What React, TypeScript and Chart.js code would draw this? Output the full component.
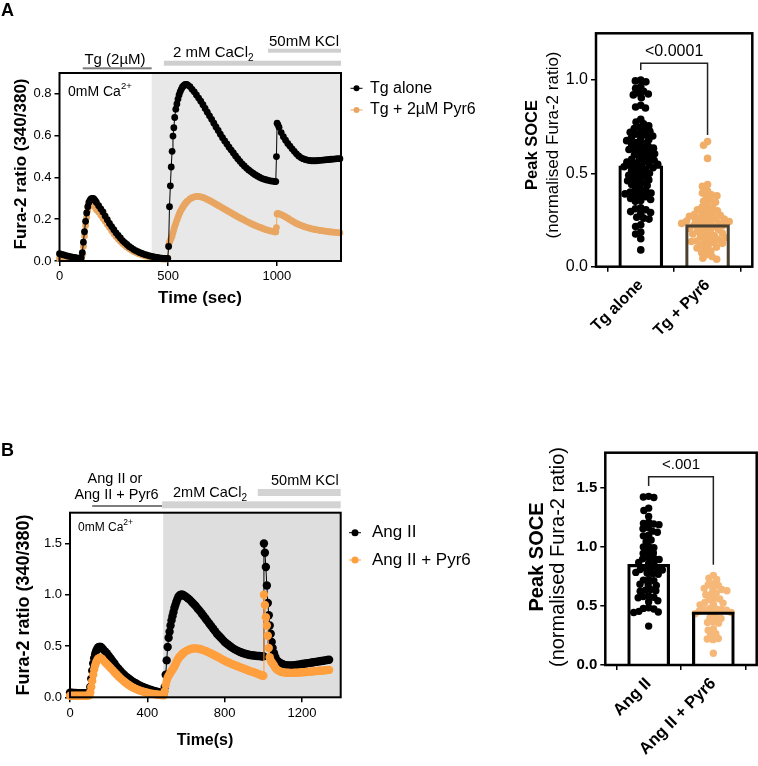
import { useEffect, useRef } from 'react';
import { Chart, registerables } from 'chart.js';

Chart.register(...registerables);

const W = 758;
const H = 766;
const SANS = '"Liberation Sans", Arial, Helvetica, sans-serif';
const fnt = (size: number, bold = false) => `${bold ? 'bold ' : ''}${size}px ${SANS}`;

// ---------------- Panel A: Fura-2 traces, thapsigargin ----------------
const timeA = [
  0, 10, 20, 30, 40, 50, 60, 70, 80, 90, 100,
  105, 110, 115, 120, 125, 130, 135, 140, 145, 150, 155, 160, 165, 170,
  180, 190, 200, 210, 220, 230, 240, 250, 260, 270, 280, 290, 300, 310, 320, 330, 340, 350, 360, 370, 380, 390, 400, 410, 420, 430, 440, 450, 460, 470, 480,
  485, 490, 494, 498, 502, 506, 510, 514, 518, 522, 526, 530, 535, 540, 545, 550, 555, 560, 565, 570, 575, 580, 585, 590,
  600, 610, 620, 630, 640, 650, 660, 670, 680, 690, 700, 710, 720, 730, 740, 750, 760, 770, 780, 790,
  800, 810, 820, 830, 840, 850, 860, 870, 880, 890, 900, 910, 920, 930, 940, 950, 960, 970, 980, 990,
  995, 998, 1001, 1005,
  1010, 1020, 1030, 1040, 1050, 1060, 1070, 1080, 1090, 1100, 1110, 1120, 1130, 1140, 1150, 1160, 1170, 1180, 1190, 1200,
  1210, 1220, 1230, 1240, 1250, 1260, 1270, 1280, 1290,
];
const ratioTgAlone = [
  0.035, 0.032, 0.029, 0.026, 0.023, 0.021, 0.019, 0.017, 0.015, 0.014, 0.015,
  0.04, 0.09, 0.14, 0.19, 0.23, 0.26, 0.28, 0.29, 0.297, 0.3, 0.3, 0.295, 0.288, 0.28,
  0.265, 0.25, 0.235, 0.215, 0.198, 0.18, 0.165, 0.15, 0.135, 0.122, 0.11, 0.098, 0.088, 0.079, 0.07, 0.063, 0.056, 0.05, 0.045, 0.04, 0.036, 0.032, 0.029, 0.026, 0.023, 0.021, 0.019, 0.017, 0.015, 0.014, 0.013,
  0.013, 0.012, 0.012, 0.013, 0.07, 0.26, 0.36, 0.45, 0.525, 0.598, 0.638, 0.687, 0.727, 0.752, 0.775, 0.795, 0.81, 0.822, 0.832, 0.838, 0.843, 0.845, 0.845, 0.842,
  0.835, 0.822, 0.81, 0.795, 0.78, 0.765, 0.748, 0.73, 0.712, 0.695, 0.678, 0.66, 0.642, 0.625, 0.607, 0.59, 0.575, 0.56, 0.545, 0.531,
  0.517, 0.503, 0.49, 0.477, 0.465, 0.455, 0.445, 0.436, 0.428, 0.42, 0.413, 0.407, 0.401, 0.396, 0.392, 0.389, 0.386, 0.384, 0.382, 0.381,
  0.38, 0.5, 0.66, 0.652,
  0.64, 0.615, 0.595, 0.578, 0.563, 0.55, 0.537, 0.525, 0.513, 0.503, 0.495, 0.49, 0.486, 0.483, 0.481, 0.48, 0.48, 0.48, 0.481, 0.482,
  0.483, 0.484, 0.485, 0.486, 0.487, 0.488, 0.489, 0.49, 0.49,
];
const ratioTgPyr6 = [
  0.012, 0.012, 0.012, 0.012, 0.012, 0.012, 0.012, 0.012, 0.012, 0.012, 0.012,
  0.03, 0.07, 0.12, 0.17, 0.21, 0.24, 0.26, 0.27, 0.275, 0.275, 0.27, 0.265, 0.255, 0.245,
  0.235, 0.22, 0.205, 0.19, 0.175, 0.16, 0.145, 0.13, 0.117, 0.105, 0.094, 0.084, 0.075, 0.067, 0.06, 0.053, 0.047, 0.042, 0.037, 0.033, 0.029, 0.026, 0.023, 0.02, 0.018, 0.016, 0.014, 0.012, 0.011, 0.01, 0.01,
  0.01, 0.01, 0.01, 0.012, 0.075, 0.09, 0.1, 0.11, 0.12, 0.135, 0.15, 0.165, 0.18, 0.195, 0.21, 0.223, 0.235, 0.245, 0.254, 0.262, 0.27, 0.277, 0.283, 0.288,
  0.297, 0.303, 0.307, 0.309, 0.309, 0.307, 0.304, 0.3, 0.295, 0.29, 0.284, 0.278, 0.272, 0.266, 0.26, 0.254, 0.248, 0.242, 0.236, 0.23,
  0.224, 0.218, 0.212, 0.206, 0.201, 0.196, 0.19, 0.185, 0.18, 0.175, 0.17, 0.166, 0.162, 0.158, 0.154, 0.15, 0.147, 0.144, 0.142, 0.14,
  0.139, 0.16, 0.225, 0.228,
  0.226, 0.222, 0.217, 0.211, 0.205, 0.198, 0.192, 0.186, 0.18, 0.175, 0.171, 0.167, 0.163, 0.16, 0.157, 0.154, 0.152, 0.15, 0.148, 0.146,
  0.145, 0.143, 0.142, 0.14, 0.139, 0.138, 0.137, 0.136, 0.135,
];
const timeTicksA = [0, 500, 1000];
const ratioTicksA = [0, 0.2, 0.4, 0.6, 0.8];
const seriesNamesA = ['Tg alone', 'Tg + 2\u00b5M Pyr6'];

// ---------------- Panel A: peak SOCE ----------------
const groupsA = ['Tg alone', 'Tg + Pyr6'];
const meanPeakA = [0.54, 0.225];
const peakTgAlone = [
  1.0, 0.995, 0.99, 0.965, 0.955, 0.94, 0.93, 0.925, 0.92, 0.905, 0.865, 0.855, 0.85, 0.79, 0.775, 0.765, 0.755,
  0.745, 0.74, 0.735, 0.725, 0.72, 0.715, 0.71, 0.705, 0.7, 0.69, 0.685, 0.68, 0.675, 0.665, 0.66, 0.655, 0.645,
  0.64, 0.635, 0.63, 0.628, 0.625, 0.615, 0.61, 0.605, 0.6, 0.595, 0.585, 0.58, 0.575, 0.57, 0.565, 0.56, 0.555,
  0.55, 0.548, 0.545, 0.54, 0.535, 0.53, 0.525, 0.52, 0.515, 0.505, 0.5, 0.495, 0.49, 0.485, 0.475, 0.47, 0.465,
  0.46, 0.45, 0.445, 0.44, 0.435, 0.415, 0.41, 0.405, 0.4, 0.395, 0.39, 0.385, 0.38, 0.375, 0.365, 0.36, 0.355,
  0.35, 0.315, 0.31, 0.305, 0.295, 0.29, 0.285, 0.265, 0.26, 0.255, 0.225, 0.215, 0.185, 0.175, 0.15, 0.09,
];
const peakTgPyr6 = [
  0.67, 0.65, 0.58, 0.44, 0.43, 0.405, 0.395, 0.385, 0.38, 0.375, 0.355, 0.35, 0.345, 0.325, 0.32, 0.315, 0.305,
  0.3, 0.295, 0.29, 0.285, 0.28, 0.275, 0.27, 0.265, 0.262, 0.258, 0.255, 0.25, 0.245, 0.242, 0.24, 0.238, 0.235,
  0.232, 0.225, 0.222, 0.22, 0.215, 0.21, 0.205, 0.2, 0.195, 0.19, 0.185, 0.18, 0.175, 0.17, 0.165, 0.16, 0.155,
  0.15, 0.145, 0.14, 0.138, 0.135, 0.13, 0.125, 0.12, 0.115, 0.105, 0.1, 0.095, 0.085, 0.075, 0.065, 0.055, 0.045, 0.04,
];
const peakTicksA = [0, 0.5, 1.0];
const pValueA = '<0.0001';

// ---------------- Panel B: Fura-2 traces, angiotensin II ----------------
const timeB = [
  0, 10, 20, 30, 40, 50, 60, 70, 80, 90, 100,
  105, 110, 115, 120, 125, 130, 135, 140, 145, 150, 155, 160, 165, 170,
  180, 190, 200, 210, 220, 230, 240, 250, 260, 270, 280, 290, 300, 310, 320, 330, 340, 350, 360, 370, 380, 390, 400, 410, 420, 430, 440, 450, 460, 470, 480,
  485, 490, 495, 500, 505, 510, 515, 520, 525, 530, 535, 540, 545, 550, 555, 560, 565, 570, 575, 580, 585, 590,
  600, 610, 620, 630, 640, 650, 660, 670, 680, 690, 700, 710, 720, 730, 740, 750, 760, 770, 780, 790,
  800, 810, 820, 830, 840, 850, 860, 870, 880, 890, 900, 910, 920, 930, 940, 950, 960, 970, 980, 990,
  995, 1000, 1003, 1008, 1013, 1018, 1023, 1028, 1033, 1038, 1043, 1048, 1055, 1062,
  1070, 1080, 1090, 1100, 1110, 1120, 1130, 1140, 1150, 1160, 1170, 1180, 1190, 1200,
  1210, 1220, 1230, 1240, 1250, 1260, 1270, 1280, 1290, 1300, 1310, 1320, 1330, 1340,
];
const ratioAngII = [
  0.045, 0.044, 0.043, 0.042, 0.041, 0.04, 0.04, 0.039, 0.039, 0.04, 0.05,
  0.1, 0.18, 0.26, 0.33, 0.38, 0.42, 0.45, 0.47, 0.485, 0.49, 0.492, 0.49, 0.48, 0.47,
  0.45, 0.43, 0.405, 0.38, 0.355, 0.33, 0.3, 0.28, 0.258, 0.238, 0.22, 0.202, 0.188, 0.174, 0.16, 0.148, 0.137, 0.126, 0.116, 0.107, 0.099, 0.091, 0.084, 0.077, 0.071, 0.065, 0.06, 0.055, 0.05, 0.046, 0.042,
  0.04, 0.1, 0.22, 0.36, 0.49, 0.58, 0.64, 0.7, 0.75, 0.79, 0.83, 0.87, 0.9, 0.93, 0.955, 0.975, 0.99, 0.998, 1.0, 1.0, 0.997, 0.99,
  0.98, 0.965, 0.95, 0.93, 0.91, 0.89, 0.865, 0.845, 0.82, 0.795, 0.77, 0.745, 0.72, 0.695, 0.67, 0.645, 0.62, 0.6, 0.58, 0.56,
  0.54, 0.525, 0.51, 0.495, 0.482, 0.47, 0.46, 0.45, 0.442, 0.435, 0.428, 0.422, 0.417, 0.413, 0.41, 0.407, 0.405, 0.403, 0.402, 0.4,
  0.4, 0.4, 1.5, 1.41, 1.27, 1.09, 0.92, 0.8, 0.7, 0.62, 0.54, 0.48, 0.43, 0.39,
  0.36, 0.345, 0.333, 0.323, 0.316, 0.312, 0.31, 0.31, 0.311, 0.313, 0.315, 0.318, 0.321, 0.324,
  0.327, 0.33, 0.333, 0.336, 0.339, 0.342, 0.345, 0.348, 0.351, 0.354, 0.357, 0.36, 0.363, 0.366,
];
const ratioAngIIPyr6 = [
  0.015, 0.015, 0.015, 0.015, 0.015, 0.015, 0.015, 0.015, 0.015, 0.015, 0.02,
  0.05, 0.1, 0.16, 0.22, 0.27, 0.31, 0.34, 0.36, 0.375, 0.382, 0.385, 0.382, 0.375, 0.365,
  0.345, 0.325, 0.305, 0.285, 0.265, 0.245, 0.225, 0.205, 0.187, 0.17, 0.154, 0.139, 0.125, 0.113, 0.101, 0.091, 0.082, 0.074, 0.067, 0.06, 0.054, 0.049, 0.044, 0.04, 0.036, 0.033, 0.03, 0.027, 0.025, 0.023, 0.021,
  0.02, 0.06, 0.12, 0.16, 0.19, 0.21, 0.225, 0.24, 0.255, 0.268, 0.285, 0.3, 0.32, 0.34, 0.36, 0.375, 0.39, 0.4, 0.41, 0.42, 0.43, 0.438,
  0.45, 0.46, 0.468, 0.474, 0.477, 0.477, 0.475, 0.471, 0.466, 0.46, 0.453, 0.445, 0.436, 0.427, 0.418, 0.408, 0.398, 0.388, 0.377, 0.366,
  0.356, 0.347, 0.339, 0.331, 0.323, 0.315, 0.307, 0.3, 0.292, 0.285, 0.278, 0.271, 0.264, 0.257, 0.25, 0.244, 0.237, 0.23, 0.222, 0.215,
  0.212, 0.21, 1.0, 0.9, 0.78, 0.7, 0.6, 0.48, 0.39, 0.36, 0.34, 0.33, 0.31, 0.285,
  0.27, 0.258, 0.25, 0.245, 0.242, 0.24, 0.239, 0.238, 0.238, 0.239, 0.24, 0.241, 0.242, 0.244,
  0.245, 0.247, 0.248, 0.25, 0.252, 0.254, 0.255, 0.257, 0.259, 0.26, 0.262, 0.264, 0.265, 0.267,
];
const timeTicksB = [0, 400, 800, 1200];
const ratioTicksB = [0, 0.5, 1.0, 1.5];
const seriesNamesB = ['Ang II', 'Ang II + Pyr6'];

// ---------------- Panel B: peak SOCE ----------------
const groupsB = ['Ang II', 'Ang II + Pyr6'];
const meanPeakB = [0.853, 0.45];
const peakAngII = [
  1.43, 1.425, 1.42, 1.33, 1.31, 1.26, 1.21, 1.2, 1.195, 1.19, 1.165, 1.155, 1.135, 1.125, 1.1, 1.095, 1.06,
  1.045, 1.005, 1.0, 0.995, 0.96, 0.95, 0.945, 0.91, 0.905, 0.9, 0.895, 0.87, 0.86, 0.855, 0.825, 0.82, 0.815,
  0.81, 0.805, 0.785, 0.78, 0.775, 0.77, 0.725, 0.72, 0.715, 0.685, 0.68, 0.675, 0.64, 0.635, 0.63, 0.625, 0.585,
  0.58, 0.575, 0.57, 0.545, 0.535, 0.485, 0.48, 0.475, 0.455, 0.45, 0.445, 0.33,
];
const peakAngIIPyr6 = [
  0.76, 0.735, 0.725, 0.69, 0.68, 0.675, 0.65, 0.645, 0.64, 0.63, 0.61, 0.6, 0.595, 0.565, 0.56, 0.555, 0.53,
  0.525, 0.515, 0.51, 0.48, 0.475, 0.47, 0.468, 0.465, 0.46, 0.445, 0.44, 0.435, 0.405, 0.4, 0.395, 0.365, 0.36,
  0.355, 0.305, 0.295, 0.265, 0.255, 0.225, 0.22, 0.215, 0.1,
];
const peakTicksB = [0, 0.5, 1.0, 1.5];
const pValueB = '<.001';

// ---------------- layout ----------------
type Box = { l: number; t: number; r: number; b: number };
const traceBoxA: Box = { l: 59.5, t: 73, r: 341, b: 261 };
const traceBoxB: Box = { l: 70, t: 512.7, r: 340.7, b: 697.3 };
const peakBoxA: Box = { l: 596, t: 33.3, r: 752.3, b: 266.7 };
const peakBoxB: Box = { l: 605.3, t: 452.7, r: 756.7, b: 665 };
const GROUP_MIN = -0.67;
const GROUP_MAX = 1.67;
const Y_BOX = 40;

const BLACK = '#000000';
const ORANGE_A = '#e8a662';
const ORANGE_B = '#ff9f3e';
const DOT_ORANGE_A = '#f0ae68';
const DOT_ORANGE_B = '#f6b878';

// Pins the plot area to a fixed rectangle of the page; the x-axis box runs to the page bottom
// so rotated tick labels are not clipped.
function pinLayout(box: Box) {
  return {
    autoPadding: false,
    padding: { left: box.l - Y_BOX, top: box.t, right: W - box.r, bottom: 0 },
  };
}

function axis(
  min: number,
  max: number,
  values: number[],
  label: (v: number) => string,
  tickFont: any,
  size: number,
  horizontal: boolean,
  tickExtra: any = {},
) {
  return {
    type: 'linear',
    min,
    max,
    offset: false,
    afterBuildTicks: (s: any) => {
      s.ticks = values.map((v) => ({ value: v }));
    },
    afterFit: (s: any) => {
      if (horizontal) s.height = size;
      else s.width = size;
    },
    ticks: { callback: (v: any) => label(Number(v)), font: tickFont, color: '#000', padding: 3, autoSkip: false, ...tickExtra },
    grid: { display: true, drawOnChartArea: false, drawTicks: true, tickLength: 5, tickWidth: 1.5, tickColor: '#000', lineWidth: 1.5, color: '#000' },
    border: { display: false },
  };
}

type Run = { text: string; size: number; bold?: boolean; shift?: number };
function drawRuns(ctx: CanvasRenderingContext2D, runs: Run[], x: number, y: number, align: 'left' | 'center') {
  ctx.textBaseline = 'middle';
  ctx.textAlign = 'left';
  const widths = runs.map((r) => {
    ctx.font = fnt(r.size, r.bold);
    return ctx.measureText(r.text).width;
  });
  let cx = align === 'center' ? x - widths.reduce((a, b) => a + b, 0) / 2 : x;
  runs.forEach((r, i) => {
    ctx.font = fnt(r.size, r.bold);
    ctx.fillText(r.text, cx, y + (r.shift || 0));
    cx += widths[i];
  });
}

function vText(ctx: CanvasRenderingContext2D, text: string, cx: number, cy: number, font: string) {
  ctx.save();
  ctx.translate(cx, cy);
  ctx.rotate(-Math.PI / 2);
  ctx.font = font;
  ctx.textAlign = 'center';
  ctx.textBaseline = 'middle';
  ctx.fillText(text, 0, 0);
  ctx.restore();
}

function hBar(ctx: CanvasRenderingContext2D, x0: number, x1: number, yTop: number, h: number, color: string) {
  ctx.fillStyle = color;
  ctx.fillRect(x0, yTop, x1 - x0, h);
}

function legendRow(ctx: CanvasRenderingContext2D, x: number, y: number, color: string, r: number, text: string, size: number, textX: number) {
  ctx.strokeStyle = color;
  ctx.lineWidth = 1;
  ctx.beginPath();
  ctx.moveTo(x - 6, y);
  ctx.lineTo(x + 6, y);
  ctx.stroke();
  ctx.fillStyle = color;
  ctx.beginPath();
  ctx.arc(x, y, r, 0, Math.PI * 2);
  ctx.fill();
  ctx.fillStyle = '#000';
  drawRuns(ctx, [{ text, size }], textX, y, 'left');
}

function frame(chart: any, width: number) {
  const { ctx, chartArea: a } = chart;
  ctx.save();
  ctx.strokeStyle = '#000';
  ctx.lineWidth = width;
  ctx.strokeRect(a.left, a.top, a.right - a.left, a.bottom - a.top);
  ctx.restore();
}

function trace(label: string, times: number[], values: number[], color: string, radius: number, order: number) {
  return {
    type: 'line',
    label,
    data: times.map((t, i) => ({ x: t, y: values[i] })).filter((p) => p.y !== undefined),
    borderColor: color,
    backgroundColor: color,
    borderWidth: 1,
    pointRadius: radius,
    pointHoverRadius: radius,
    pointBackgroundColor: color,
    pointBorderWidth: 0,
    tension: 0,
    order,
    clip: false,
  };
}

// Beeswarm offsets: each value is pushed sideways just far enough not to overlap earlier dots.
function swarm(values: number[], center: number, r: number, pxPerY: number, pxPerX: number) {
  const placed: { x: number; y: number }[] = [];
  const out: { x: number; y: number }[] = [];
  const sorted = [...values].sort((a, b) => b - a);
  for (const v of sorted) {
    const py = v * pxPerY;
    const blocked: [number, number][] = [];
    for (const p of placed) {
      const dy = Math.abs(p.y - py);
      if (dy < 2 * r) {
        const dx = Math.sqrt(4 * r * r - dy * dy);
        blocked.push([p.x - dx, p.x + dx]);
      }
    }
    const cands = [0];
    blocked.forEach(([a, b]) => cands.push(a, b));
    cands.sort((a, b) => Math.abs(a) - Math.abs(b));
    let px = 0;
    for (const c of cands) {
      if (blocked.every(([a, b]) => c <= a + 1e-6 || c >= b - 1e-6)) {
        px = c;
        break;
      }
    }
    placed.push({ x: px, y: py });
    out.push({ x: center + px / pxPerX, y: v });
  }
  return out;
}

// ---------------- chart configs ----------------
function traceChartA(): any {
  const decor = {
    id: 'traceDecorA',
    beforeDatasetsDraw(chart: any) {
      const { ctx, chartArea: a, scales } = chart;
      const x0 = scales.x.getPixelForValue(424);
      ctx.save();
      ctx.fillStyle = '#e8e8e8';
      ctx.fillRect(x0, a.top, a.right - x0, a.bottom - a.top);
      ctx.restore();
    },
    afterDraw(chart: any) {
      const { ctx, scales } = chart;
      const x = scales.x;
      frame(chart, 2);
      ctx.save();
      hBar(ctx, x.getPixelForValue(107), x.getPixelForValue(424), 67.3, 2, '#7d7d7d');
      hBar(ctx, x.getPixelForValue(480), x.getPixelForValue(1295), 60.7, 5, '#cfcfcf');
      hBar(ctx, x.getPixelForValue(959), x.getPixelForValue(1295), 48.7, 4, '#cfcfcf');
      ctx.fillStyle = '#000';
      drawRuns(ctx, [{ text: 'Tg (2\u00b5M)', size: 15 }], 115, 60, 'center');
      drawRuns(ctx, [{ text: '2 mM CaCl', size: 15 }, { text: '2', size: 10, shift: 5 }], 173, 53, 'left');
      drawRuns(ctx, [{ text: '50mM KCl', size: 15 }], 269, 42, 'left');
      drawRuns(ctx, [{ text: '0mM Ca', size: 14 }, { text: '2+', size: 9.5, shift: -6 }], 68, 92, 'left');
      vText(ctx, 'Fura-2 ratio (340/380)', 21, 164, fnt(17, true));
      drawRuns(ctx, [{ text: 'Time (sec)', size: 17, bold: true }], 200, 298, 'center');
      drawRuns(ctx, [{ text: 'A', size: 18, bold: true }], 1, 11, 'left');
      legendRow(ctx, 356.5, 88.3, BLACK, 3, seriesNamesA[0], 16, 370);
      legendRow(ctx, 356.5, 110, ORANGE_A, 3, seriesNamesA[1], 16, 370);
      ctx.restore();
    },
  };
  const xBox = H - traceBoxA.b;
  return {
    type: 'line',
    data: {
      datasets: [
        trace(seriesNamesA[0], timeA, ratioTgAlone, BLACK, 3.4, 0),
        trace(seriesNamesA[1], timeA, ratioTgPyr6, ORANGE_A, 3.4, 1),
      ],
    },
    options: {
      responsive: false,
      animation: false,
      devicePixelRatio: 1,
      events: [],
      layout: pinLayout(traceBoxA),
      plugins: { legend: { display: false }, tooltip: { enabled: false } },
      scales: {
        x: axis(0, 1295, timeTicksA, (v) => String(v), { family: SANS, size: 13 }, xBox, true),
        y: axis(0, 0.9, ratioTicksA, (v) => v.toFixed(1), { family: SANS, size: 13 }, Y_BOX, false),
      },
    },
    plugins: [decor],
  };
}

function traceChartB(): any {
  const decor = {
    id: 'traceDecorB',
    beforeDatasetsDraw(chart: any) {
      const { ctx, chartArea: a, scales } = chart;
      const x0 = scales.x.getPixelForValue(482);
      ctx.save();
      ctx.fillStyle = '#dedede';
      ctx.fillRect(x0, a.top, a.right - x0, a.bottom - a.top);
      ctx.restore();
    },
    afterDraw(chart: any) {
      const { ctx, scales } = chart;
      const x = scales.x;
      frame(chart, 2);
      ctx.save();
      hBar(ctx, x.getPixelForValue(115), x.getPixelForValue(477), 505, 2, '#7d7d7d');
      hBar(ctx, x.getPixelForValue(477), x.getPixelForValue(1400), 501.3, 7, '#d3d3d3');
      hBar(ctx, x.getPixelForValue(971), x.getPixelForValue(1400), 489, 7, '#d3d3d3');
      ctx.fillStyle = '#000';
      drawRuns(ctx, [{ text: 'Ang II or', size: 14.5 }], 115, 479, 'center');
      drawRuns(ctx, [{ text: 'Ang II + Pyr6', size: 14.5 }], 116.5, 495, 'center');
      drawRuns(ctx, [{ text: '2mM CaCl', size: 14.5 }, { text: '2', size: 10, shift: 5 }], 173, 493, 'left');
      drawRuns(ctx, [{ text: '50mM KCl', size: 14.5 }], 271, 481, 'left');
      drawRuns(ctx, [{ text: '0mM Ca', size: 12 }, { text: '2+', size: 8.5, shift: -5 }], 78, 528, 'left');
      vText(ctx, 'Fura-2 ratio (340/380)', 24, 605, fnt(18, true));
      drawRuns(ctx, [{ text: 'Time(s)', size: 16, bold: true }], 205, 741, 'center');
      drawRuns(ctx, [{ text: 'B', size: 18, bold: true }], 1, 451, 'left');
      legendRow(ctx, 355, 532.7, BLACK, 3.5, seriesNamesB[0], 17, 372);
      legendRow(ctx, 355, 560, ORANGE_B, 3.5, seriesNamesB[1], 17, 372);
      ctx.restore();
    },
  };
  const xBox = H - traceBoxB.b;
  return {
    type: 'line',
    data: {
      datasets: [
        trace(seriesNamesB[0], timeB, ratioAngII, BLACK, 4.2, 1),
        trace(seriesNamesB[1], timeB, ratioAngIIPyr6, ORANGE_B, 4.2, 0),
      ],
    },
    options: {
      responsive: false,
      animation: false,
      devicePixelRatio: 1,
      events: [],
      layout: pinLayout(traceBoxB),
      plugins: { legend: { display: false }, tooltip: { enabled: false } },
      scales: {
        x: axis(0, 1400, timeTicksB, (v) => String(v), { family: SANS, size: 13 }, xBox, true),
        y: axis(0, 1.8, ratioTicksB, (v) => v.toFixed(1), { family: SANS, size: 13 }, Y_BOX, false),
      },
    },
    plugins: [decor],
  };
}

type PeakSpec = {
  id: string;
  box: Box;
  yMax: number;
  ticks: number[];
  groups: string[];
  means: number[];
  first: number[];
  second: number[];
  secondColor: string;
  barColors: string[];
  barThickness: number;
  dotR: number;
  tickFont: any;
  labelFont: any;
  pValue: string;
  pFont: number;
  bracket: { top: number; left: number; right: number; text: number };
  titles: { x1: number; x2: number; y: number; s1: number; s2: number };
};

function peakChart(s: PeakSpec): any {
  const pxPerY = (s.box.b - s.box.t) / s.yMax;
  const pxPerX = (s.box.r - s.box.l) / (GROUP_MAX - GROUP_MIN);
  const spread = s.dotR * 0.72;
  const decor = {
    id: s.id,
    afterDraw(chart: any) {
      const { ctx, scales } = chart;
      frame(chart, 2.5);
      const x0 = scales.x.getPixelForValue(0);
      const x1 = scales.x.getPixelForValue(1);
      const yt = scales.y.getPixelForValue(s.bracket.top);
      ctx.save();
      ctx.strokeStyle = '#222';
      ctx.lineWidth = 1.5;
      ctx.beginPath();
      ctx.moveTo(x0, scales.y.getPixelForValue(s.bracket.left));
      ctx.lineTo(x0, yt);
      ctx.lineTo(x1, yt);
      ctx.lineTo(x1, scales.y.getPixelForValue(s.bracket.right));
      ctx.stroke();
      ctx.fillStyle = '#000';
      drawRuns(ctx, [{ text: s.pValue, size: s.pFont }], (x0 + x1) / 2, scales.y.getPixelForValue(s.bracket.text), 'center');
      vText(ctx, 'Peak SOCE', s.titles.x1, s.titles.y, fnt(s.titles.s1, true));
      vText(ctx, '(normalised Fura-2 ratio)', s.titles.x2, s.titles.y, fnt(s.titles.s2));
      ctx.restore();
    },
  };
  const xBox = H - s.box.b;
  return {
    type: 'bar',
    data: {
      datasets: [
        {
          type: 'bar',
          data: s.means.map((m, i) => ({ x: i, y: m })),
          backgroundColor: 'rgba(0,0,0,0)',
          borderColor: s.barColors,
          borderWidth: 2.5,
          barThickness: s.barThickness,
          grouped: false,
          order: 0,
        },
        {
          type: 'scatter',
          data: swarm(s.first, 0, spread, pxPerY, pxPerX),
          pointRadius: s.dotR,
          pointHoverRadius: s.dotR,
          pointBackgroundColor: BLACK,
          backgroundColor: BLACK,
          pointBorderWidth: 0,
          order: 1,
          clip: false,
        },
        {
          type: 'scatter',
          data: swarm(s.second, 1, spread, pxPerY, pxPerX),
          pointRadius: s.dotR,
          pointHoverRadius: s.dotR,
          pointBackgroundColor: s.secondColor,
          backgroundColor: s.secondColor,
          pointBorderWidth: 0,
          order: 2,
          clip: false,
        },
      ],
    },
    options: {
      responsive: false,
      animation: false,
      devicePixelRatio: 1,
      events: [],
      layout: pinLayout(s.box),
      plugins: { legend: { display: false }, tooltip: { enabled: false } },
      scales: {
        x: axis(GROUP_MIN, GROUP_MAX, [0, 1], (v) => s.groups[Math.round(v)] ?? '', s.labelFont, xBox, true, {
          minRotation: 45,
          maxRotation: 45,
          padding: 4,
        }),
        y: axis(0, s.yMax, s.ticks, (v) => v.toFixed(1), s.tickFont, Y_BOX, false),
      },
    },
    plugins: [decor],
  };
}

export default function App() {
  const traceA = useRef<HTMLCanvasElement>(null);
  const peakA = useRef<HTMLCanvasElement>(null);
  const traceB = useRef<HTMLCanvasElement>(null);
  const peakB = useRef<HTMLCanvasElement>(null);

  useEffect(() => {
    const charts = [
      new Chart(traceA.current!, traceChartA()),
      new Chart(traceB.current!, traceChartB()),
      new Chart(
        peakA.current!,
        peakChart({
          id: 'peakDecorA',
          box: peakBoxA,
          yMax: 1.25,
          ticks: peakTicksA,
          groups: groupsA,
          means: meanPeakA,
          first: peakTgAlone,
          second: peakTgPyr6,
          secondColor: DOT_ORANGE_A,
          barColors: ['#000000', '#4b4032'],
          barThickness: 44,
          dotR: 3.8,
          tickFont: { family: SANS, size: 16 },
          labelFont: { family: SANS, size: 16, weight: 'bold' },
          pValue: pValueA,
          pFont: 16,
          bracket: { top: 1.09, left: 1.054, right: 0.705, text: 1.15 },
          titles: { x1: 532, x2: 553, y: 145, s1: 16.5, s2: 17 },
        }),
      ),
      new Chart(
        peakB.current!,
        peakChart({
          id: 'peakDecorB',
          box: peakBoxB,
          yMax: 1.8,
          ticks: peakTicksB,
          groups: groupsB,
          means: meanPeakB,
          first: peakAngII,
          second: peakAngIIPyr6,
          secondColor: DOT_ORANGE_B,
          barColors: ['#000000', '#000000'],
          barThickness: 42,
          dotR: 3.7,
          tickFont: { family: SANS, size: 15, weight: 'bold' },
          labelFont: { family: SANS, size: 16.5, weight: 'bold' },
          pValue: pValueB,
          pFont: 15,
          bracket: { top: 1.597, left: 1.517, right: 0.851, text: 1.7 },
          titles: { x1: 537, x2: 558, y: 557, s1: 20, s2: 20 },
        }),
      ),
    ];
    return () => charts.forEach((c) => c.destroy());
  }, []);

  const layer = { position: 'absolute' as const, left: 0, top: 0, width: W, height: H };
  return (
    <div style={{ position: 'absolute', left: 0, top: 0, width: W, height: H, background: '#fff', overflow: 'hidden' }}>
      <canvas ref={traceA} width={W} height={H} style={layer} />
      <canvas ref={traceB} width={W} height={H} style={layer} />
      <canvas ref={peakA} width={W} height={H} style={layer} />
      <canvas ref={peakB} width={W} height={H} style={layer} />
    </div>
  );
}
